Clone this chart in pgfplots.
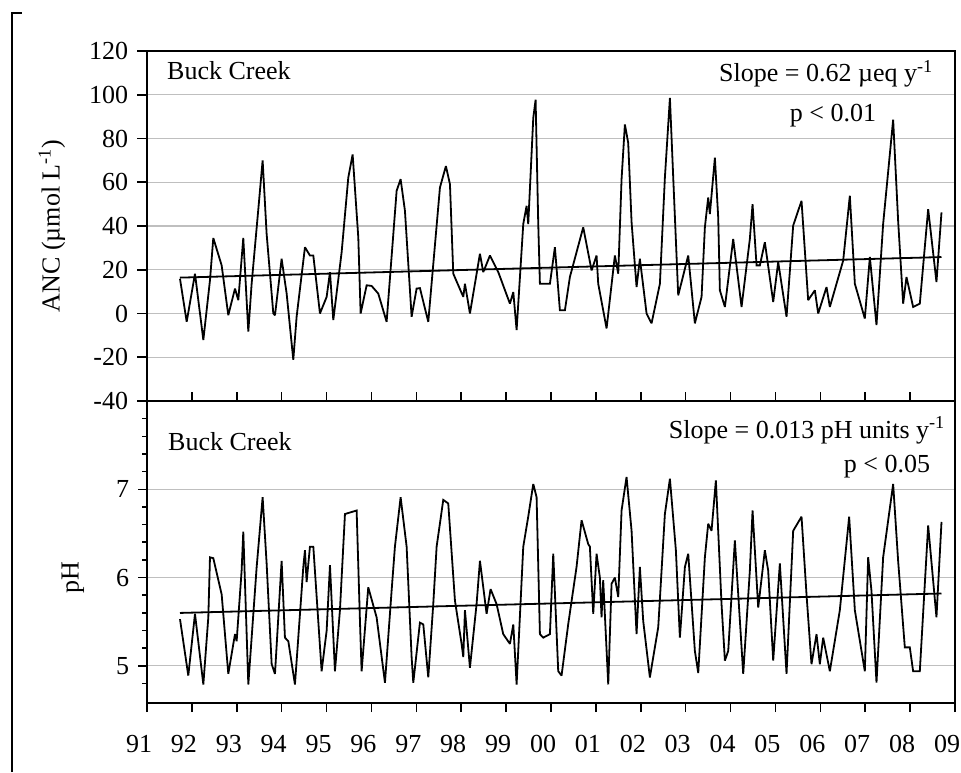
\documentclass[border=0pt]{standalone}
\usepackage{fontspec}
\setmainfont{Liberation Serif}
\usepackage{pgfplots}
\pgfplotsset{compat=1.18}
\pgfplotsset{
  panel/.style={
    scale only axis, width=808pt,
    xmin=91, xmax=109,
    axis line style={line width=1.8pt},
    every tick/.style={line width=1.6pt, black},
    tick label style={font=\fontsize{26}{31}\selectfont},
    label style={font=\fontsize{26}{31}\selectfont},
    ymajorgrids, ytick pos=left, tick align=outside,
  },
  series/.style={black, line width=1.8pt, sharp plot, mark=none, line join=miter, miter limit=2},
}
\begin{document}
\fontsize{26}{31}\selectfont
\begin{tikzpicture}[x=1pt,y=1pt]
\path[use as bounding box] (0,0) rectangle (961,772);
\draw[line width=1.8pt] (12,0) -- (12,759) -- (22,759);

\begin{axis}[panel,
  at={(147pt,371pt)}, anchor=south west, height=350pt,
  ymin=-40, ymax=120,
  xtick=\empty,
  ytick={-40,-20,0,20,40,60,80,100,120},
  yticklabels={-40,-20,0,20,40,60,80,100,120},
  major tick length=10pt,
  grid style={line width=1.4pt, color=black!25},
  ylabel={ANC (µmol L\textsuperscript{-1})},
  ylabel style={at={(axis description cs:-0.1176,0.5)}, anchor=center},
]
\addplot[series] coordinates {(91.735,15.9)(91.884,-3.8)(92.069,18.2)(92.255,-12.1)(92.403,15.2)(92.477,34.5)(92.663,22.0)(92.811,-0.8)(92.960,11.4)(93.034,6.1)(93.145,34.5)(93.257,-8.3)(93.331,13.6)(93.480,47.7)(93.576,70.0)(93.665,36.4)(93.814,0)(93.851,-0.8)(93.999,25.0)(94.111,9.1)(94.259,-21.2)(94.333,-1.5)(94.519,30.3)(94.630,26.5)(94.705,26.5)(94.853,0)(95.002,7.6)(95.076,18.9)(95.150,-3.0)(95.336,28.0)(95.484,62.1)(95.581,72.7)(95.707,34.8)(95.759,0)(95.893,12.9)(96.004,12.6)(96.152,9.1)(96.338,-3.8)(96.561,56.1)(96.650,61.4)(96.746,47.0)(96.895,-1.5)(97.006,11.4)(97.080,11.6)(97.266,-3.8)(97.526,57.6)(97.659,67.4)(97.749,59.1)(97.823,18.2)(98.046,7.6)(98.083,13.6)(98.194,0)(98.417,27.3)(98.491,18.9)(98.640,26.5)(98.826,18.9)(99.085,4.5)(99.160,9.8)(99.234,-7.6)(99.382,40.9)(99.456,49.2)(99.493,40.9)(99.605,89.4)(99.657,97.7)(99.716,40.9)(99.753,13.6)(99.976,13.6)(100.087,30.3)(100.198,1.5)(100.310,1.5)(100.421,16.7)(100.718,39.4)(100.904,19.7)(101.015,26.5)(101.052,13.6)(101.238,-6.8)(101.423,26.5)(101.498,18.2)(101.572,61.4)(101.646,86.4)(101.720,78.0)(101.795,41.7)(101.906,12.1)(101.980,25.0)(102.129,0)(102.240,-4.5)(102.426,13.6)(102.537,62.1)(102.649,98.5)(102.723,62.1)(102.834,8.3)(103.057,26.5)(103.205,-4.5)(103.354,7.6)(103.428,39.4)(103.502,53.0)(103.539,45.5)(103.651,71.2)(103.725,43.9)(103.762,10.6)(103.874,3.0)(104.059,34.1)(104.245,3.0)(104.430,34.1)(104.490,50.0)(104.579,22.0)(104.653,22.0)(104.764,32.6)(104.950,5.3)(105.061,23.5)(105.135,13.6)(105.247,-1.5)(105.395,40.2)(105.581,51.5)(105.729,6.1)(105.878,10.6)(105.952,0)(106.138,12.1)(106.212,3.0)(106.509,24.2)(106.657,53.8)(106.769,13.6)(106.991,-2.3)(107.103,25.8)(107.251,-5.3)(107.399,40.9)(107.622,88.6)(107.733,42.4)(107.845,4.5)(107.919,16.7)(108.067,3.0)(108.216,4.5)(108.402,47.7)(108.587,14.4)(108.699,46.2)};
\addplot[series] coordinates {(91.735,16.4)(108.699,25.8)};
\end{axis}

\begin{axis}[panel,
  at={(147pt,69pt)}, anchor=south west, height=302pt,
  ymin=4.58, ymax=8.0,
  xtick={91,92,93,94,95,96,97,98,99,100,101,102,103,104,105,106,107,108,109},
  xticklabels={91,92,93,94,95,96,97,98,99,00,01,02,03,04,05,06,07,08,09},
  xticklabel style={xshift=-8pt, yshift=-14pt},
  xtick pos=both,
  ytick={5,6,7}, yticklabels={5,6,7},
  minor ytick={4.8,5.2,5.4,5.6,5.8,6.2,6.4,6.6,6.8,7.2,7.4,7.6,7.8,8.0},
  major tick length=9pt, minor tick length=5pt,
  grid style={line width=1.1pt, color=black!25},
  ylabel={pH},
  ylabel style={at={(axis description cs:-0.0916,0.414)}, anchor=center},
]
\addplot[series] coordinates {(91.735,5.53)(91.920,4.89)(92.069,5.59)(92.255,4.79)(92.366,5.55)(92.403,6.23)(92.477,6.22)(92.663,5.81)(92.811,4.91)(92.960,5.36)(92.997,5.28)(93.108,6.08)(93.145,6.52)(93.257,4.79)(93.443,6.12)(93.576,6.91)(93.665,6.16)(93.777,5.02)(93.851,4.91)(93.999,6.19)(94.073,5.32)(94.148,5.28)(94.296,4.79)(94.482,6.12)(94.519,6.31)(94.556,5.95)(94.630,6.35)(94.705,6.35)(94.890,4.94)(95.002,5.40)(95.076,6.14)(95.187,4.94)(95.298,5.63)(95.410,6.72)(95.670,6.76)(95.744,5.51)(95.781,4.94)(95.929,5.89)(96.115,5.55)(96.301,4.81)(96.449,5.85)(96.523,6.35)(96.650,6.91)(96.784,6.35)(96.895,5.10)(96.932,4.81)(97.080,5.49)(97.155,5.47)(97.266,4.87)(97.377,5.70)(97.452,6.35)(97.600,6.88)(97.711,6.84)(97.860,5.74)(98.008,5.25)(98.046,5.10)(98.083,5.63)(98.194,4.98)(98.342,5.70)(98.417,6.19)(98.565,5.59)(98.654,5.87)(98.788,5.70)(98.936,5.36)(99.085,5.25)(99.160,5.47)(99.234,4.79)(99.382,6.35)(99.493,6.69)(99.605,7.06)(99.679,6.91)(99.753,5.36)(99.827,5.32)(99.976,5.36)(100.050,6.27)(100.161,4.94)(100.235,4.89)(100.383,5.47)(100.569,6.12)(100.681,6.65)(100.829,6.38)(100.866,6.35)(100.941,5.59)(101.015,6.27)(101.089,6.00)(101.126,5.55)(101.163,5.97)(101.275,4.79)(101.349,5.93)(101.423,6.00)(101.498,5.78)(101.572,6.76)(101.683,7.14)(101.795,6.53)(101.906,5.36)(101.980,6.12)(102.054,5.51)(102.203,4.87)(102.389,5.44)(102.537,6.72)(102.649,7.12)(102.782,6.31)(102.871,5.32)(102.983,6.12)(103.057,6.27)(103.205,5.17)(103.280,4.92)(103.428,6.23)(103.502,6.61)(103.576,6.53)(103.673,7.10)(103.799,5.70)(103.874,5.06)(103.948,5.17)(104.096,6.42)(104.282,4.91)(104.430,6.08)(104.490,6.76)(104.616,5.66)(104.764,6.31)(104.838,6.08)(104.950,5.06)(105.098,6.16)(105.247,4.91)(105.395,6.53)(105.581,6.69)(105.692,5.81)(105.803,5.02)(105.915,5.36)(105.989,5.02)(106.063,5.32)(106.212,4.94)(106.434,5.63)(106.642,6.69)(106.769,5.63)(106.991,4.94)(107.065,6.23)(107.139,5.85)(107.251,4.81)(107.399,6.23)(107.622,7.06)(107.733,6.19)(107.882,5.21)(107.993,5.21)(108.067,4.94)(108.216,4.94)(108.402,6.59)(108.587,5.55)(108.699,6.63)};
\addplot[series] coordinates {(91.735,5.60)(108.699,5.82)};
\end{axis}

\node[anchor=base west, inner sep=0] at (167,692) {Buck Creek};
\node[anchor=base east, inner sep=0] at (933,690) {Slope = 0.62 µeq y\textsuperscript{-1}};
\node[anchor=base, inner sep=0] at (833,650) {p < 0.01};
\node[anchor=base west, inner sep=0] at (168,321) {Buck Creek};
\node[anchor=base east, inner sep=0] at (945,334) {Slope = 0.013 pH units y\textsuperscript{-1}};
\node[anchor=base, inner sep=0] at (887,300) {p < 0.05};
\end{tikzpicture}
\end{document}
